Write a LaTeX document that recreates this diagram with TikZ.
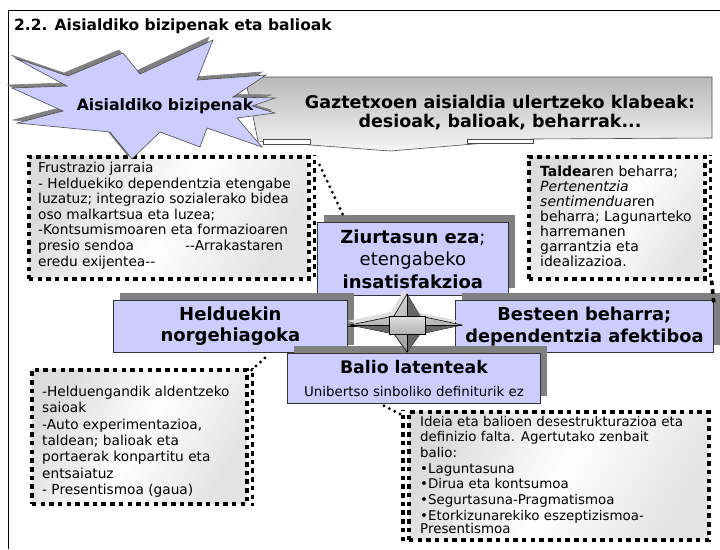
\documentclass[tikz,border=0pt]{standalone}
\usepackage{fontspec}
\setmainfont{DejaVu Sans}
\usetikzlibrary{shadows}
\definecolor{lav}{RGB}{204,204,255}
\definecolor{shd}{RGB}{128,128,128}
\newcommand{\lns}[1]{\begin{tabular}[t]{@{}l@{}}#1\end{tabular}}
\begin{document}
\begin{tikzpicture}[x=1pt,y=-1pt,
  dbox/.style={draw=black, line width=3.6pt, dash pattern=on 4.5pt off 4.2pt,
    anchor=north west, inner sep=0pt,
    left color=gray!28, right color=gray!22, middle color=white, shading angle=60},
  sqline/.style={draw=black, line width=3.6pt, dash pattern=on 4.5pt off 4.2pt},
  btext/.style={anchor=base west, inner sep=0pt, align=left},
  hbox/.style={draw=black!80, line width=0.8pt, fill=lav, anchor=north west,
    align=center, inner sep=0pt,
    general shadow={fill=shd, shadow xshift=7pt, shadow yshift=7pt}},
  dotline/.style={line width=3.2pt, line cap=round, dash pattern=on 0pt off 6pt}]
\useasboundingbox (0,0) rectangle (720,549);
\fill[white] (0,0) rectangle (720,549);
% frame
\draw[line width=1.6pt] (720,10.5) -- (8.5,10.5) -- (8.5,549);
\node[anchor=west, font=\fontsize{15.5}{17}\selectfont\bfseries, inner sep=0pt] (title) at (14,26) {2.2. Aisialdiko bizipenak eta balioak};
% callout
\shade[top color=gray!55, bottom color=gray!8, draw=gray!60!black, line width=0.6pt]
  (245,77) -- (712,77) -- (712,138) -- (534,139) -- (390,151) -- (258,141) -- cycle;
\draw[fill=white, draw=gray!60!black, line width=0.5pt] (263,139.5) rectangle (310,144);
\draw[fill=white, draw=gray!60!black, line width=0.5pt] (467,139) rectangle (533,143);
\node[font=\fontsize{17.5}{19.5}\selectfont\bfseries, align=center] (ca) at (500,112.5)
  {Gaztetxoen aisialdia ulertzeko klabeak:\\desioak, balioak, beharrak...};
% box 1
\node[dbox, minimum width=280pt, minimum height=122pt] (b1) at (27,155) {};
\draw[sqline, dash phase=4pt] ([xshift=4pt]b1.north east) -- ([xshift=4pt]b1.south east);
\node[btext, font=\fontsize{13.7}{15.6}\selectfont] (b1t) at (38,172.5) {\lns{%
Frustrazio jarraia\\
- Helduekiko dependentzia etengabe\\
luzatuz; integrazio sozialerako bidea\\
oso malkartsua eta luzea;\\
-Kontsumismoaren eta formazioaren\\
\makebox[147pt][l]{presio sendoa}-{}-Arrakastaren\\
eredu exijentea-{}-}};
% box 2
\node[dbox, minimum width=176pt, minimum height=122pt] (b2) at (527,155) {};
\draw[sqline, dash phase=4pt] ([xshift=4pt]b2.north east) -- ([xshift=4pt]b2.south east);
\node[btext, font=\fontsize{14}{14.4}\selectfont] (b2t) at (540,176.5) {\lns{%
\textbf{Taldea}ren beharra;\\
\textit{Pertenentzia}\\
\textit{sentimendua}ren\\
beharra; Lagunarteko\\
harremanen\\
garrantzia eta\\
idealizazioa.}};
% explosion
\foreach \dx/\dy/\c/\d in {-4/-3/shd/shd, 0/0/lav/black!70}{
  \filldraw[fill=\c, draw=\d, line width=0.6pt, shift={(\dx,\dy)}]
  (15,58) -- (68,76) -- (123,53) -- (140,74) -- (213,40) -- (197,80) -- (266,75) -- (233,97)
  -- (275,98) -- (252,106) -- (275,113) -- (237,118) -- (262,147) -- (207,128) -- (200,147)
  -- (160,132) -- (132,159) -- (110,132) -- (17,123) -- (63,111) -- (12,88) -- (67,86) -- cycle;
}
\node[font=\fontsize{15.7}{17}\selectfont\bfseries] (ex) at (165,106) {Aisialdiko bizipenak};
% heading boxes
\node[hbox, minimum width=191pt, minimum height=73pt, font=\fontsize{18}{22.5}\selectfont] (zi) at (317,222)
  {\textbf{Ziurtasun eza};\\etengabeko\\\textbf{insatisfakzioa}};
\node[hbox, minimum width=234pt, minimum height=52pt, font=\fontsize{18}{21}\selectfont\bfseries] (he) at (113,300)
  {Helduekin\\norgehiagoka};
\node[hbox, minimum width=258pt, minimum height=52pt, font=\fontsize{17.8}{22}\selectfont\bfseries] (be) at (455,300)
  {Besteen beharra;\\dependentzia afektiboa};
\node[hbox, minimum width=253pt, minimum height=50pt, font=\fontsize{13.4}{23}\selectfont] (ba) at (287,353)
  {{\fontsize{17.3}{23}\selectfont\bfseries Balio latenteak}\\Unibertso sinboliko definiturik ez};
% four-point star
\draw[line width=0.8pt] (he.east) -- (be.west);
\fill[gray!25, shift={(-3,-4)}] (407,294) -- (420,316) -- (462,325) -- (420,334) -- (407,352) -- (394,334) -- (350,325) -- (394,316) -- cycle;
\shade[top color=gray!35, bottom color=gray!75, draw=black, line width=0.6pt]
  (407,294) -- (420,316) -- (462,325) -- (420,334) -- (407,352) -- (394,334) -- (350,325) -- (394,316) -- cycle;
\fill[gray!80!black] (350,325) -- (394,334) -- (394,325) -- cycle;
\fill[gray!80!black] (462,325) -- (420,334) -- (420,325) -- cycle;
\fill[gray!80!black] (407,294) -- (420,316) -- (407,316) -- cycle;
\fill[gray!80!black] (407,352) -- (420,334) -- (407,334) -- cycle;
\draw[line width=0.5pt] (350,325) -- (462,325) (407,294) -- (407,352);
\shade[top color=gray!25, bottom color=gray!60, draw=black, line width=0.7pt] (389,316) rectangle (425,334);
% box 3
\node[dbox, minimum width=215pt, minimum height=134pt] (b3) at (30,368) {};
\draw[sqline, dash phase=4pt] ([xshift=4pt]b3.north east) -- ([xshift=4pt]b3.south east);
\node[btext, font=\fontsize{13.7}{16.3}\selectfont] (b3t) at (42,396.5) {\lns{%
-Helduengandik aldentzeko\\
saioak\\
-Auto experimentazioa,\\
taldean; balioak eta\\
portaerak konpartitu eta\\
entsaiatuz\\
- Presentismoa (gaua)}};
% box 4
\node[dbox, minimum width=300pt, minimum height=128pt] (b4) at (407,410) {};
\draw[sqline, dash phase=4pt] ([xshift=-4pt]b4.north west) -- ([xshift=-4pt]b4.south west);
\node[btext, font=\fontsize{13.4}{15.7}\selectfont] (b4t) at (420,426) {\lns{%
Ideia eta balioen desestrukturazioa eta\\
definizio falta. Agertutako zenbait\\
balio:\\
•Laguntasuna\\
•Dirua eta kontsumoa\\
•Segurtasuna-Pragmatismoa\\
•Etorkizunarekiko eszeptizismoa-\\[-2pt]
Presentismoa}};
% connectors
\draw[dotline] ([xshift=9pt,yshift=-10pt]b1.north east) -- ([xshift=26pt,yshift=7pt]zi.north west);
\draw[sqline] ([xshift=5pt]b2.south east) -- ([yshift=-3pt]be.north east);
\draw[dotline] ([xshift=3pt,yshift=-2pt]b3.north east) -- ([xshift=152pt,yshift=-5pt]he.south west);
\draw[dotline] ([xshift=97pt,yshift=-2pt]ba.south west) -- ([xshift=-3pt,yshift=-6pt]b4.north west);
\end{tikzpicture}
\end{document}
